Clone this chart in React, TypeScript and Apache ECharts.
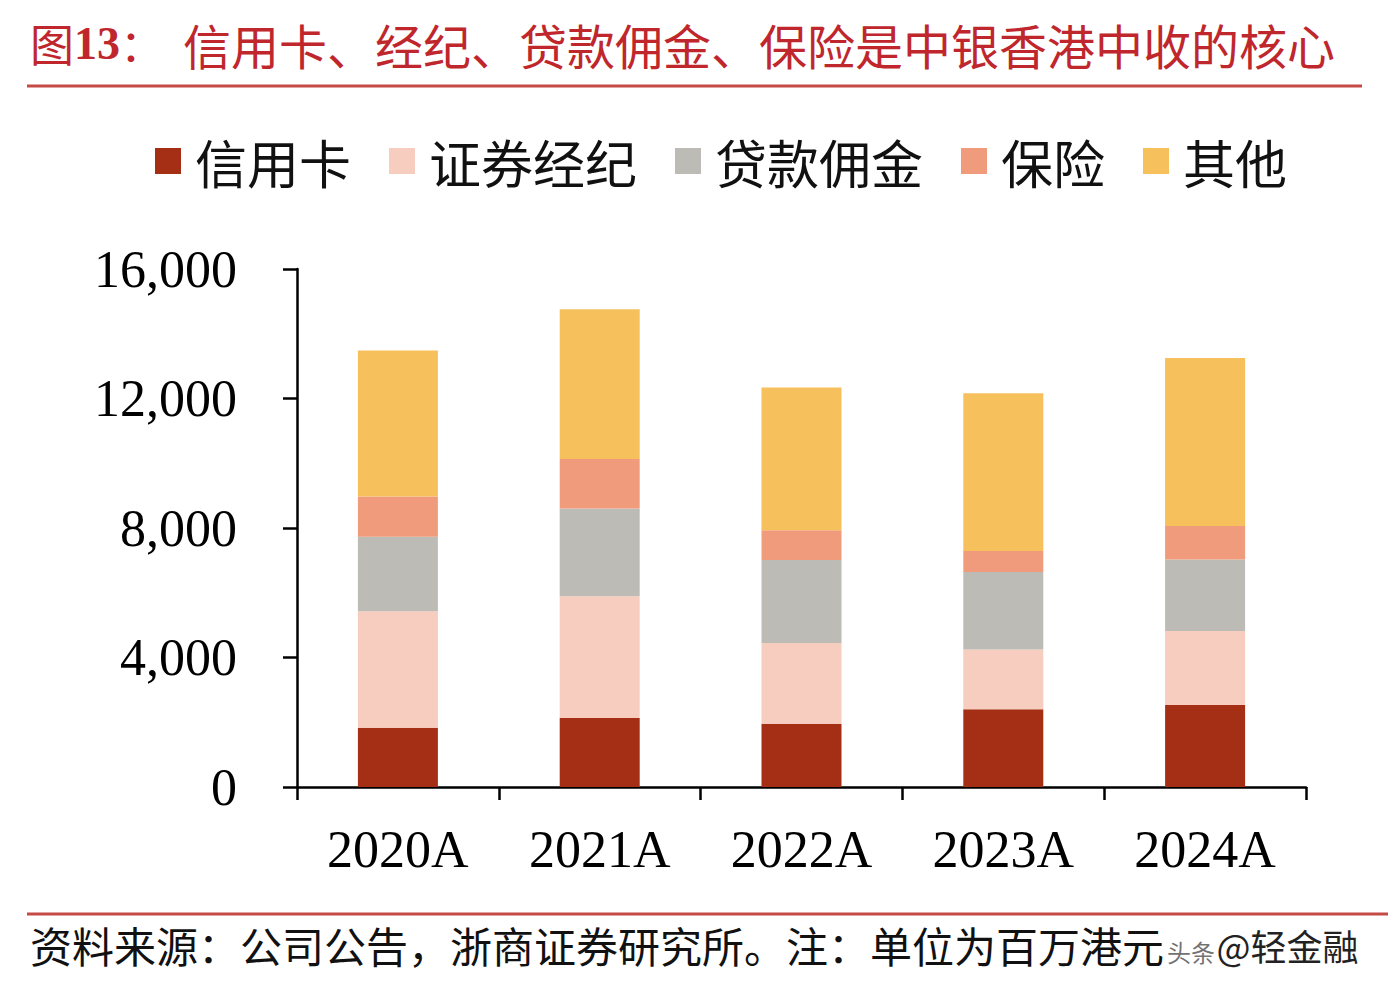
import React, { useEffect, useRef } from "react";
import * as echarts from "echarts";

const categories = ["2020A", "2021A", "2022A", "2023A", "2024A"];
const seriesNames = ["信用卡", "证券经纪", "贷款佣金", "保险", "其他"];
const creditCard = [1830, 2130, 1950, 2400, 2530];
const brokerage = [3600, 3760, 2500, 1850, 2290];
const loanCommission = [2300, 2710, 2560, 2390, 2210];
const insurance = [1240, 1530, 920, 650, 1030];
const others = [4510, 4630, 4410, 4870, 5190];
const yTicks = [0, 4000, 8000, 12000, 16000];
const colors = ["#A52F14", "#F6CDBF", "#BDBBB5", "#F19B7D", "#F6C05C"];

const titleFig = "图";
const titleNum = "13";
const titleText = "信用卡、经纪、贷款佣金、保险是中银香港中收的核心";
const footerText = "资料来源：公司公告，浙商证券研究所。注：单位为百万港元";
const watermarkApp = "头条";
const watermark = "@轻金融";

export default function App() {
  const ref = useRef<HTMLDivElement>(null);
  useEffect(() => {
    if (!ref.current) return;
    const chart = echarts.init(ref.current, null, { renderer: "svg" });
    const values = [creditCard, brokerage, loanCommission, insurance, others];
    const serif = "'Liberation Serif', 'Times New Roman', serif";
    const cjk = "'Noto Sans CJK SC', sans-serif";
    chart.setOption({
      animation: false,
      backgroundColor: "#ffffff",
      legend: {
        left: 150,
        top: 130,
        itemWidth: 26,
        itemHeight: 26,
        itemGap: 38,
        icon: "rect",
        textStyle: { fontSize: 52, color: "#111", fontFamily: cjk, padding: [0, 0, 0, 9] },
        data: seriesNames,
      },
      grid: { left: 297, right: 82, top: 269, bottom: 209 },
      xAxis: {
        type: "category",
        data: categories,
        axisLine: { lineStyle: { color: "#000", width: 2.5 } },
        axisTick: { show: true, length: 13, lineStyle: { color: "#000", width: 2.5 } },
        axisLabel: { fontSize: 52, color: "#000", fontFamily: serif, margin: 36 },
      },
      yAxis: {
        type: "value",
        min: yTicks[0],
        max: yTicks[yTicks.length - 1],
        interval: yTicks[1] - yTicks[0],
        splitLine: { show: false },
        axisLine: { show: true, lineStyle: { color: "#000", width: 2.5 } },
        axisTick: { show: true, length: 14, lineStyle: { color: "#000", width: 2.5 } },
        axisLabel: {
          fontSize: 52,
          color: "#000",
          fontFamily: serif,
          margin: 60,
          formatter: (v: number) => v.toLocaleString("en-US"),
        },
      },
      series: seriesNames.map((name, i) => ({
        name,
        type: "bar",
        stack: "total",
        barWidth: 80,
        data: values[i],
        itemStyle: { color: colors[i] },
      })),
      graphic: [
        {
          type: "text",
          left: 30,
          top: 20,
          style: {
            text: `{a|${titleFig}}{b|${titleNum}}{a|：}`,
            rich: {
              a: { fontSize: 44, fill: "#C0272D", color: "#C0272D", fontFamily: cjk },
              b: { fontSize: 46, fill: "#C0272D", color: "#C0272D", fontFamily: serif, fontWeight: "bold" },
            },
          },
        },
        {
          type: "text",
          left: 183,
          top: 20,
          style: { text: titleText, fontSize: 48, fill: "#C0272D", fontFamily: cjk },
        },
        {
          type: "line",
          shape: { x1: 27, y1: 86, x2: 1362, y2: 86 },
          style: { stroke: "#C44A46", lineWidth: 3 },
        },
        {
          type: "line",
          shape: { x1: 27, y1: 914, x2: 1388, y2: 914 },
          style: { stroke: "#C44A46", lineWidth: 3 },
        },
        {
          type: "text",
          left: 30,
          top: 923,
          style: { text: footerText, fontSize: 42, fill: "#111", fontFamily: cjk },
        },
        {
          type: "text",
          left: 1167,
          top: 939,
          style: { text: watermarkApp, fontSize: 24, fill: "rgba(50,50,50,0.7)", fontFamily: cjk },
        },
        {
          type: "text",
          left: 1216,
          top: 926,
          style: {
            text: watermark,
            fontSize: 36,
            fill: "#222",
            stroke: "#fff",
            lineWidth: 1,
            fontFamily: cjk,
          },
        },
      ],
    });
    return () => chart.dispose();
  }, []);
  return (
    <div
      ref={ref}
      style={{ position: "absolute", left: 0, top: 0, width: 1388, height: 996 }}
    />
  );
}
